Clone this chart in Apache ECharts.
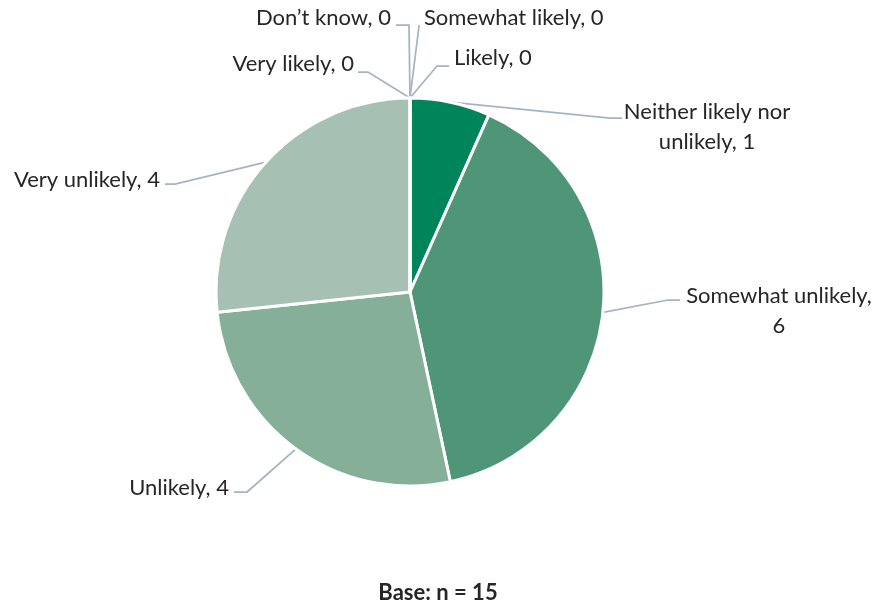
<!DOCTYPE html>
<html>
<head>
<meta charset="utf-8">
<script src="https://cdn.jsdelivr.net/npm/echarts@6/dist/echarts.min.js"></script>
<style>
  html, body { margin: 0; padding: 0; background: #ffffff; }
  #chart { width: 878px; height: 604px; }
</style>
</head>
<body>
<div id="chart"></div>
<script>
// Responses, clockwise from 12 o'clock
const categories = [
  'Likely',
  'Somewhat likely',
  'Neither likely nor unlikely',
  'Somewhat unlikely',
  'Unlikely',
  'Very unlikely',
  'Very likely',
  'Don\u2019t know'
];
const counts = [0, 0, 1, 6, 4, 4, 0, 0];
const sliceColors = ['#00845A', '#00845A', '#00845A', '#4E9677', '#85AF99', '#A6C1B3', '#A6C1B3', '#A6C1B3'];
const baseText = 'Base: n = 15';

// Where each callout sits, and the bend of its leader line
const callouts = {
  'Likely':                      { x: 454, y: 58,  align: 'left',   bend: [[437, 66], [449, 66]] },
  'Somewhat likely':             { x: 424, y: 18,  align: 'left',   bend: [[419, 26], [420, 26]] },
  'Neither likely nor unlikely': { x: 707, y: 127, align: 'center', bend: [[610, 118], [622, 118]] },
  'Somewhat unlikely':           { x: 779, y: 311, align: 'center', bend: [[668, 300], [680, 300]] },
  'Unlikely':                    { x: 229, y: 488, align: 'right',  bend: [[247, 492], [234, 492]] },
  'Very unlikely':               { x: 160, y: 180, align: 'right',  bend: [[175, 184], [165, 184]] },
  'Very likely':                 { x: 354, y: 64,  align: 'right',  bend: [[368, 72], [358, 72]] },
  'Don\u2019t know':             { x: 391, y: 18,  align: 'right',  bend: [[409, 25], [396, 25]] }
};

// Two-line wrapping used by the longer callouts
const labelText = {
  'Neither likely nor unlikely': 'Neither likely nor\nunlikely',
  'Somewhat unlikely': 'Somewhat unlikely,\n'
};

const pieData = categories.map((name, i) => ({
  name: name,
  value: counts[i],
  itemStyle: { color: sliceColors[i] }
}));

const chart = echarts.init(document.getElementById('chart'), null, { renderer: 'canvas' });

chart.setOption({
  animation: false,
  backgroundColor: '#ffffff',
  title: {
    text: baseText,
    left: 433,
    top: 577,
    textAlign: 'center',
    textStyle: {
      fontFamily: 'Lato, "Open Sans", sans-serif',
      fontSize: 22,
      fontWeight: 'bold',
      color: '#262626'
    }
  },
  series: [{
    type: 'pie',
    center: [410, 292],
    radius: 194,
    startAngle: 90,
    clockwise: true,
    minShowLabelAngle: 0,
    avoidLabelOverlap: false,
    itemStyle: { borderColor: '#ffffff', borderWidth: 3 },
    emphasis: { disabled: true },
    label: {
      show: true,
      position: 'outside',
      fontFamily: 'Lato, "Open Sans", sans-serif',
      fontSize: 22,
      lineHeight: 30,
      color: '#262626',
      formatter: (p) => {
        if (p.name === 'Somewhat unlikely') return 'Somewhat unlikely,\n' + p.value;
        if (labelText[p.name]) return labelText[p.name] + ', ' + p.value;
        return p.name + ', ' + p.value;
      }
    },
    labelLine: {
      show: true,
      smooth: false,
      lineStyle: { color: '#A7B3C3', width: 1.75 }
    },
    labelLayout: (params) => {
      const name = categories[params.dataIndex];
      const c = callouts[name];
      const start = params.labelLinePoints ? params.labelLinePoints[0] : [410, 98];
      return {
        x: c.x,
        y: c.y,
        align: c.align,
        verticalAlign: 'middle',
        labelLinePoints: [start, c.bend[0], c.bend[1]]
      };
    },
    data: pieData
  }]
});
</script>
</body>
</html>
